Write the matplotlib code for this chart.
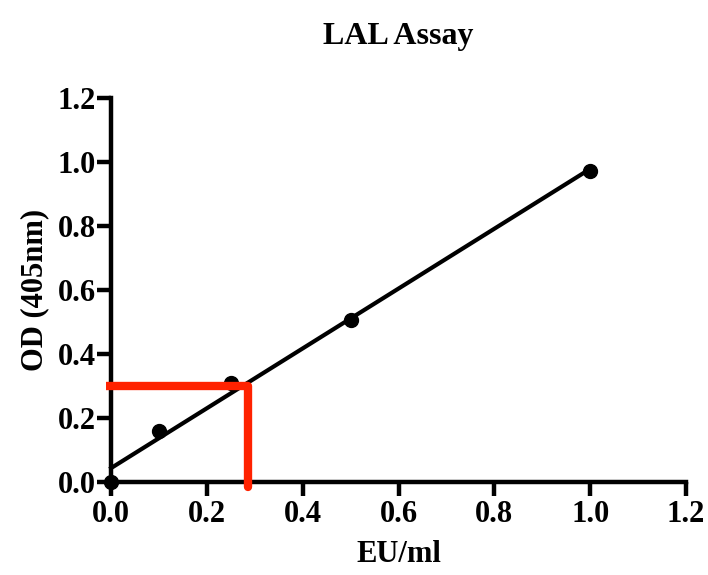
import numpy as np
import matplotlib.pyplot as plt

# standard curve data
conc = [0.0, 0.1, 0.25, 0.5, 1.0]
od = [0.0, 0.16, 0.31, 0.505, 0.97]

# read-off of the unknown sample
sample_od = 0.30
sample_conc = 0.286

xticks = [0.0, 0.2, 0.4, 0.6, 0.8, 1.0, 1.2]
yticks = [0.0, 0.2, 0.4, 0.6, 0.8, 1.0, 1.2]

plt.rcParams['font.family'] = ['Liberation Serif', 'DejaVu Serif']
plt.rcParams['font.weight'] = 'bold'

fig = plt.figure(figsize=(7.08, 5.75), dpi=100)
ax = fig.add_axes([0.157, 0.162, 0.812, 0.668])

slope, icept = np.polyfit(conc, od, 1)
xfit = np.array([0.0, 1.0])
ax.plot(xfit, slope*xfit + icept, color='black', lw=3, clip_on=False, zorder=3)
ax.plot(conc, od, 'o', color='black', ms=10, clip_on=False, zorder=4)

ax.plot([-0.011, sample_conc], [sample_od, sample_od], color='#ff2200', lw=6,
	solid_capstyle='butt', clip_on=False, zorder=5)
ax.plot([sample_conc, sample_conc], [sample_od, -0.017], color='#ff2200', lw=6,
	solid_capstyle='round', clip_on=False, zorder=5)

ax.set_xlim(0, 1.2)
ax.set_ylim(0, 1.2)
ax.set_xticks(xticks)
ax.set_yticks(yticks)
ax.set_xticklabels(['%.1f' % t for t in xticks])
ax.set_yticklabels(['%.1f' % t for t in yticks])

for s in ['top', 'right']:
	ax.spines[s].set_visible(False)
for s in ['left', 'bottom']:
	ax.spines[s].set_linewidth(3.2)
ax.tick_params(width=3.2, length=10, labelsize=22, pad=3)
ax.tick_params(axis='y', pad=1)

ax.set_title('LAL Assay', fontsize=23, fontweight='bold', pad=39)
ax.set_xlabel('EU/ml', fontsize=22, fontweight='bold', labelpad=8)
ax.set_ylabel('OD (405nm)', fontsize=22, fontweight='bold', labelpad=6)

plt.savefig('out.png', dpi=100)
